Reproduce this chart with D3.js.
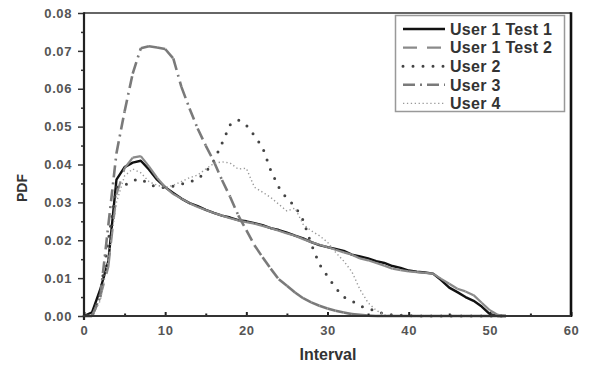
<!DOCTYPE html>
<html>
<head>
<meta charset="utf-8">
<script src="https://cdn.jsdelivr.net/npm/d3@7"></script>
<style>
  html, body { margin: 0; padding: 0; background: #fff; }
  svg { display: block; font-family: "Liberation Sans", Arial, sans-serif; }
</style>
</head>
<body>
<svg id="chart" width="589" height="367"></svg>
<script>
// Interval values shared by all series
const interval = d3.range(0, 53);

// Probability density per interval for each user / test
const user1Test1 = [0, 0.001, 0.007, 0.0145, 0.036, 0.0393, 0.0405, 0.041, 0.0387, 0.036,
  0.034, 0.0325, 0.031, 0.0298, 0.029, 0.028, 0.0272, 0.0265, 0.026, 0.0253,
  0.025, 0.0245, 0.024, 0.0232, 0.0227, 0.022, 0.0212, 0.0205, 0.0195, 0.0187,
  0.0182, 0.0177, 0.0172, 0.0162, 0.0157, 0.0152, 0.0145, 0.014, 0.0132, 0.0127,
  0.012, 0.0117, 0.0115, 0.0112, 0.0095, 0.0075, 0.0063, 0.005, 0.004, 0.0025,
  0.0005, 0, 0];
const user1Test2 = [0, 0, 0.005, 0.013, 0.032, 0.039, 0.0418, 0.0422, 0.0395, 0.0365,
  0.034, 0.0322, 0.031, 0.0298, 0.0288, 0.028, 0.0272, 0.0265, 0.0258, 0.0252,
  0.0248, 0.0244, 0.0238, 0.0232, 0.0225, 0.0218, 0.0212, 0.0203, 0.0195, 0.0188,
  0.0182, 0.0175, 0.0168, 0.0162, 0.0152, 0.0147, 0.014, 0.0133, 0.0125, 0.0121,
  0.0118, 0.0116, 0.0114, 0.0112, 0.0098, 0.0085, 0.0072, 0.0065, 0.0055, 0.0035,
  0.0015, 0.0003, 0];
const user2 = [0, 0, 0.006, 0.02, 0.034, 0.0345, 0.0358, 0.0362, 0.0348, 0.034,
  0.0339, 0.0343, 0.0348, 0.0354, 0.0362, 0.038, 0.041, 0.0456, 0.0505, 0.0518,
  0.0504, 0.0476, 0.0445, 0.0385, 0.034, 0.031, 0.029, 0.0253, 0.019, 0.0137,
  0.0105, 0.0074, 0.005, 0.004, 0.0026, 0.002, 0.0012, 0.0006, 0.0003, 0.0002,
  0.0001, 0, 0, 0, 0, 0, 0, 0, 0, 0,
  0, 0, 0];
const user3 = [0, 0, 0.005, 0.024, 0.043, 0.054, 0.064, 0.0707, 0.0712, 0.0709,
  0.0705, 0.068, 0.0605, 0.0548, 0.0495, 0.045, 0.0408, 0.0359, 0.0315, 0.0266,
  0.0227, 0.0187, 0.0155, 0.0125, 0.0097, 0.008, 0.0062, 0.0047, 0.0036, 0.0027,
  0.002, 0.0014, 0.0009, 0.0005, 0.0003, 0.0001, 0, 0, 0, 0,
  0, 0, 0, 0, 0, 0, 0, 0, 0, 0,
  0, 0, 0];
const user4 = [0, 0, 0.004, 0.015, 0.03, 0.037, 0.0388, 0.0378, 0.0355, 0.0345,
  0.034, 0.0345, 0.0355, 0.0365, 0.0372, 0.0388, 0.0403, 0.0407, 0.0404, 0.0388,
  0.039, 0.034, 0.0327, 0.0313, 0.0295, 0.0277, 0.0285, 0.0242, 0.0225, 0.0212,
  0.0195, 0.0168, 0.0145, 0.0117, 0.007, 0.0035, 0.0015, 0.0003, 0, 0,
  0, 0, 0, 0, 0, 0, 0, 0, 0, 0,
  0, 0, 0];

const seriesNames = ["User 1 Test 1", "User 1 Test 2", "User 2", "User 3", "User 4"];
const seriesValues = [user1Test1, user1Test2, user2, user3, user4];

const xTicks = [0, 10, 20, 30, 40, 50, 60];
const xMinor = [5, 15, 25, 35, 45, 55];
const yTicks = [0, 0.01, 0.02, 0.03, 0.04, 0.05, 0.06, 0.07, 0.08];
const yMinor = [0.005, 0.015, 0.025, 0.035, 0.045, 0.055, 0.065, 0.075];

// Line styles; "segmented" series restart their dash pattern at every data point
const styles = [
  { stroke: "#111", width: 2.4, dash: null, cap: "butt", segmented: false },
  { stroke: "#8a8a8a", width: 2.2, dash: "14,10", cap: "butt", segmented: true },
  { stroke: "#444", width: 3, dash: "0,10", cap: "round", segmented: false },
  { stroke: "#7a7a7a", width: 2.6, dash: "12,5,2,5", cap: "butt", segmented: true },
  { stroke: "#999", width: 1.4, dash: "1.3,2.6", cap: "butt", segmented: false }
];

const svg = d3.select("#chart");
const plotLeft = 84, plotRight = 571, plotTop = 13, plotBottom = 316;
const x = d3.scaleLinear().domain([0, 60]).range([plotLeft, plotRight]);
const y = d3.scaleLinear().domain([0, 0.08]).range([plotBottom, plotTop]);

// Curves
const line = d3.line().x(d => x(d[0])).y(d => y(d[1]));
const plot = svg.append("g");
seriesValues.forEach((vals, i) => {
  const st = styles[i];
  const pts = interval.map((v, j) => [v, vals[j]]);
  const pieces = st.segmented ? d3.pairs(pts) : [pts];
  plot.append("g").selectAll("path").data(pieces).join("path")
    .attr("d", line)
    .attr("fill", "none")
    .attr("stroke", st.stroke)
    .attr("stroke-width", st.width)
    .attr("stroke-linecap", st.cap)
    .attr("stroke-linejoin", "round")
    .attr("stroke-dasharray", st.dash);
});

// Axes
const tickFont = g => g.selectAll("text")
  .attr("font-size", 13).attr("font-weight", "bold").attr("fill", "#555")
  .attr("letter-spacing", 0.6);

const xAxis = svg.append("g").attr("transform", `translate(0,${plotBottom})`)
  .call(d3.axisBottom(x).tickValues(xTicks).tickSize(-4).tickPadding(10).tickFormat(d3.format("d")));
xAxis.call(tickFont);
xAxis.select(".domain").remove();
xAxis.selectAll("line").attr("stroke", "#222").attr("stroke-width", 2);

const xMinorAxis = svg.append("g").attr("transform", `translate(0,${plotBottom})`)
  .call(d3.axisBottom(x).tickValues(xMinor).tickSize(-2.5).tickFormat(""));
xMinorAxis.select(".domain").remove();
xMinorAxis.selectAll("line").attr("stroke", "#222").attr("stroke-width", 2);

const yAxis = svg.append("g").attr("transform", `translate(${plotLeft},0)`)
  .call(d3.axisLeft(y).tickValues(yTicks).tickSize(6).tickPadding(6).tickFormat(d3.format(".2f")));
yAxis.call(tickFont);
yAxis.select(".domain").remove();
yAxis.selectAll("line").attr("stroke", "#333").attr("stroke-width", 1.5);

const yMinorAxis = svg.append("g").attr("transform", `translate(${plotLeft},0)`)
  .call(d3.axisLeft(y).tickValues(yMinor).tickSize(3).tickFormat(""));
yMinorAxis.select(".domain").remove();
yMinorAxis.selectAll("line").attr("stroke", "#333").attr("stroke-width", 1.5);

// Frame
svg.append("line").attr("x1", plotLeft).attr("x2", plotRight).attr("y1", plotTop).attr("y2", plotTop)
  .attr("stroke", "#333").attr("stroke-width", 1.4);
svg.append("line").attr("x1", plotRight).attr("x2", plotRight).attr("y1", plotTop - 0.7).attr("y2", plotBottom + 1)
  .attr("stroke", "#111").attr("stroke-width", 2.6);
svg.append("line").attr("x1", plotLeft).attr("x2", plotLeft).attr("y1", plotTop - 0.7).attr("y2", plotBottom + 4)
  .attr("stroke", "#222").attr("stroke-width", 2.2);
svg.append("line").attr("x1", plotLeft - 1).attr("x2", plotRight).attr("y1", plotBottom).attr("y2", plotBottom)
  .attr("stroke", "#333").attr("stroke-width", 2.2);

// Axis titles
svg.append("text").attr("x", 328).attr("y", 360).attr("text-anchor", "middle")
  .attr("font-size", 16).attr("font-weight", "bold").attr("fill", "#333").text("Interval");
svg.append("text").attr("transform", "translate(27,188) rotate(-90)").attr("text-anchor", "middle")
  .attr("font-size", 14).attr("font-weight", "bold").attr("fill", "#333").text("PDF");

// Legend
const legend = svg.append("g");
legend.append("rect").attr("x", 395.5).attr("y", 15.5).attr("width", 169).attr("height", 96)
  .attr("fill", "#fff").attr("stroke", "#999").attr("stroke-width", 1.5);
const rowY = d => 29 + d * 18.6;
seriesNames.forEach((name, i) => {
  const st = styles[i];
  legend.append("line")
    .attr("x1", 403).attr("x2", 445).attr("y1", rowY(i)).attr("y2", rowY(i))
    .attr("stroke", st.stroke).attr("stroke-width", st.width)
    .attr("stroke-linecap", st.cap).attr("stroke-dasharray", st.dash);
  legend.append("text").attr("x", 450).attr("y", rowY(i)).attr("dy", "0.36em")
    .attr("font-size", 16).attr("font-weight", "bold").attr("fill", "#333")
    .attr("letter-spacing", 0.3).text(name);
});
</script>
</body>
</html>
